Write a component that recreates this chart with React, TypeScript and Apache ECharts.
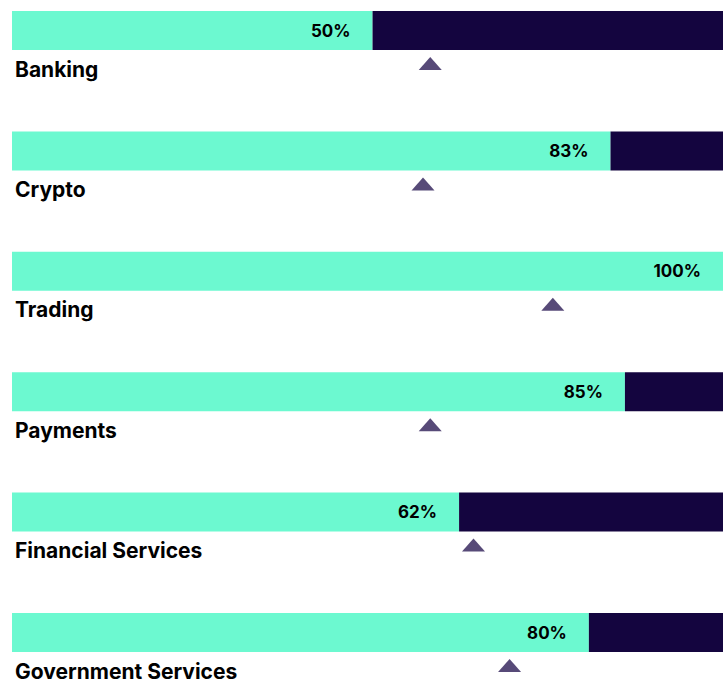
import React, { useEffect, useRef } from "react";
import * as echarts from "echarts";

const categories = ["Banking", "Crypto", "Trading", "Payments", "Financial Services", "Government Services"];
const values = [50, 83, 100, 85, 62, 80];
const benchmarks = [58, 57, 75, 58, 64, 69];

export default function App() {
  const ref = useRef<HTMLDivElement>(null);
  useEffect(() => {
    if (!ref.current) return;
    const chart = echarts.init(ref.current, null, { renderer: "svg" });
    const remainder = values.map((v) => 100 - v);
    chart.setOption({
      animation: false,
      textStyle: { fontFamily: "Inter" },
      grid: { left: 12, right: 0, top: 30.5, height: 602 },
      xAxis: {
        type: "value",
        min: 0,
        max: 98.6,
        show: false,
      },
      yAxis: {
        type: "category",
        data: categories,
        inverse: true,
        boundaryGap: false,
        show: false,
      },
      series: [
        {
          type: "bar",
          stack: "s",
          data: values,
          barWidth: 39,
          itemStyle: { color: "#6cf9d0" },
          label: {
            show: true,
            position: "insideRight",
            distance: 22,
            formatter: "{c}%",
            color: "#000000",
            fontFamily: "Inter",
            fontWeight: "bold",
            fontSize: 17,
          },
        },
        {
          type: "bar",
          stack: "s",
          data: remainder,
          barWidth: 39,
          itemStyle: { color: "#14053f" },
        },
        {
          type: "scatter",
          data: benchmarks.map((b, i) => [b, categories[i]]),
          symbol: "triangle",
          symbolSize: [23, 13],
          symbolOffset: [0, 33],
          itemStyle: { color: "#574a78", opacity: 1 },
        },
        {
          type: "scatter",
          data: categories.map((c) => [0, c]),
          symbolSize: 0,
          itemStyle: { opacity: 1 },
          label: {
            show: true,
            position: "right",
            distance: 3,
            offset: [0, 38.5],
            formatter: (p: any) => p.value[1],
            color: "#000000",
            fontFamily: "Inter",
            fontWeight: "bold",
            fontSize: 21,
          },
        },
      ],
    });
    return () => chart.dispose();
  }, []);
  return (
    <div
      ref={ref}
      style={{ position: "absolute", left: 0, top: 0, width: 723, height: 679, background: "#ffffff" }}
    />
  );
}
